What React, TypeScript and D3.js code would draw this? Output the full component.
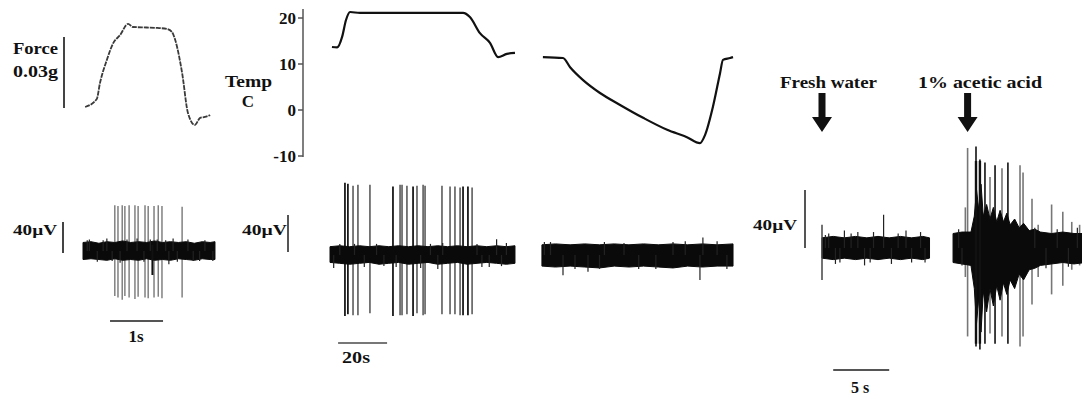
import React from 'react';
import * as d3 from 'd3';

// ---------- A: force stimulus + nerve recording ----------
const forceTime = [0.04, 0.26, 0.32, 0.45, 0.57, 0.70, 0.85, 0.94, 1.20, 1.40, 1.58, 1.68, 1.74, 1.87, 1.98, 2.11, 2.21, 2.30, 2.40];
const forceG = [0, 0.0034, 0.0101, 0.0199, 0.027, 0.0304, 0.0351, 0.0338, 0.0336, 0.0334, 0.033, 0.0317, 0.0283, 0.0144, -0.0025, -0.0076, -0.0046, -0.0042, -0.0034];
// [time s, peak uV, trough uV]
const spikesA = [
  [0.60, 59, -58], [0.66, 58, -60], [0.74, 59, -63], [0.79, 58, -58], [0.87, 59, -60],
  [0.98, 59, -62], [1.04, 58, -59], [1.17, 59, -60], [1.23, 58, -61], [1.34, 58, -60],
  [1.42, 59, -59], [1.49, 58, -61], [1.87, 57, -60],
];
const darkA = [[1.31, 8, -31]];
const envA = [[0, 11, -11], [0.15, 12, -10], [0.3, 10, -11], [0.45, 12, -12], [0.6, 11, -10], [0.75, 13, -12], [0.9, 11, -11], [1.05, 12, -12], [1.2, 11, -10], [1.35, 13, -12], [1.5, 11, -11], [1.65, 12, -12], [1.8, 11, -10], [1.95, 12, -11], [2.1, 10, -12], [2.25, 12, -10], [2.4, 11, -11], [2.49, 12, -11]];
const hairsA = [[0.08, 14], [0.12, 15], [0.27, -14], [0.38, 14], [0.45, 16], [0.55, -13], [0.7, -15], [0.83, 15], [1.02, 16], [1.15, -14], [1.27, 15], [1.4, 15], [1.56, 14], [1.62, -17], [1.7, 16], [1.78, -14], [1.98, 15], [2.08, -13], [2.2, -13], [2.3, 14], [2.45, -13]];

// ---------- B: temperature + recording ----------
const tempTime1 = [0.8, 2.9, 5.0, 6.5, 8.2, 12.2, 30, 54.3, 57.1, 61.2, 65.3, 68.6, 72.2, 75.5];
const tempC1 = [13.7, 13.6, 16.0, 19.5, 21.3, 21.1, 21.1, 21.1, 20.2, 16.7, 14.6, 11.5, 12.2, 12.4];
const tempTime2 = [86.9, 95.1, 98.0, 103.3, 110.2, 118.4, 127.8, 137.6, 145.7, 151.0, 153.1, 156.3, 159.2, 160.4, 163.3, 164.5];
const tempC2 = [11.5, 11.3, 9.3, 6.5, 3.7, 1.1, -1.7, -4.3, -5.9, -7.2, -5.4, 0.7, 8.0, 10.9, 11.3, 11.5];
const tempTicks = [20, 10, 0, -10];
const spikesB = [
  [6.1, 78, -66], [7.3, 77, -64], [9.4, 75, -65], [11.4, 76, -65], [16.3, 76, -63],
  [25.7, 74, -66], [28.6, 76, -65], [29.4, 76, -65], [31.4, 75, -64], [33.9, 74, -66],
  [35.5, 75, -63], [38.0, 76, -65], [38.8, 75, -64], [45.7, 75, -64], [49.0, 74, -64],
  [51.0, 74, -64], [53.1, 73, -65], [54.3, 74, -65], [56.3, 74, -65], [58.0, 73, -64],
];
const strongB = [6.1, 7.3, 25.7, 33.9, 54.3, 56.3];
const envB1 = [[0, 9, -8], [4, 10, -9], [8, 9, -10], [12, 10, -9], [16, 9, -8], [20, 10, -10], [24, 9, -9], [28, 10, -8], [32, 9, -10], [36, 10, -9], [40, 9, -8], [44, 10, -10], [48, 9, -9], [52, 10, -8], [56, 9, -10], [60, 10, -9], [64, 9, -8], [68, 10, -9], [72, 9, -10], [75.5, 10, -9]];
const hairsB1 = [[1.5, -14], [4, 12], [10, 12], [14, -13], [19, 12], [22, -12], [27, -13], [37, -14], [41, 12], [44, -15], [46, 13], [60, 12], [62, -13], [65, -13], [68, 17], [70, -12], [72, 13]];
const envB2 = [[86.5, 11, -12], [92, 12, -13], [98, 11, -12], [104, 12, -13], [110, 11, -14], [116, 12, -12], [122, 11, -13], [128, 12, -12], [134, 11, -13], [140, 12, -14], [146, 11, -12], [152, 12, -13], [158, 11, -12], [164.5, 12, -12]];
const hairsB2 = [[87.5, 14], [95.1, -22], [100, -15], [105.3, -18], [90, 14], [112, 14], [120, 13], [126, -15], [140, 14], [145, 15], [151.0, -27], [152.2, 19], [158, 15], [110, -15], [133, -15], [162, -15]];

// ---------- C: fresh water vs acetic acid ----------
const spikesC1 = [[0.0, 16, -22]];
const envC1 = [[0, 7, -7], [1, 8, -8], [2, 7, -7], [3, 8, -8], [4, 7, -7], [5, 8, -8], [6, 7, -7], [7, 8, -8], [8, 7, -7], [9, 8, -8], [9.6, 7, -7]];
const hairsC1 = [[0.3, 9], [0.6, 10], [1.2, -11], [1.6, -10], [2.0, 12], [2.6, 10], [3.2, 11], [3.8, -12], [4.3, -10], [4.6, 11], [5.5, 23], [6.2, -11], [6.8, 10], [7.5, 12], [8.0, -10], [8.8, 11], [9.2, -10]];
const spikesC2 = [
  [13.0, 69, -61], [13.75, 70, -68], [14.1, 61, -70], [14.55, 59, -66], [15.0, 49, -59],
  [15.45, 57, -66], [16.07, 55, -61], [16.6, 59, -66], [17.68, 57, -68], [17.95, 52, -61],
  [18.75, 34, -39], [20.5, 30, -32], [21.5, 25, -26], [22.3, 18, -15], [23.0, 16, -12],
  [12.8, 28, -20], [19.3, 16, -20],
];
const strongC2 = [13.75, 14.1, 14.55, 15.45, 16.6];
const envC2 = [
  [11.7, 10, -10], [12.5, 11, -11], [13.3, 11, -12], [13.6, 22, -28], [13.8, 40, -52], [14.0, 26, -34],
  [14.2, 44, -58], [14.4, 22, -30], [14.7, 30, -44], [15.0, 20, -28], [15.3, 28, -40], [15.6, 18, -26],
  [15.9, 26, -36], [16.2, 18, -24], [16.5, 24, -32], [16.8, 16, -22], [17.2, 20, -28], [17.6, 14, -18],
  [18.0, 17, -22], [18.5, 12, -15], [19.0, 13, -14], [19.5, 11, -12], [20.5, 10, -11], [21.5, 11, -10],
  [22.5, 10, -11], [23.5, 10, -10],
];
const hairsC2 = [[12.2, 13], [12.5, -12], [19.0, 14], [20.0, -14], [21.0, 13], [22.0, -13], [22.8, 14]];

const FONT = '"Liberation Serif", "Times New Roman", serif';

const App: React.FC = () => {
  // scales, one set per panel
  const xA = d3.scaleLinear().domain([0, 2.5]).range([83, 215.5]);
  const fA = d3.scaleLinear().domain([0, 0.03]).range([107, 36]);
  const yA = d3.scaleLinear().domain([0, 40]).range([251, 220]);

  const xB = d3.scaleLinear().domain([0, 20]).range([330, 379]);
  const tB = d3.scaleLinear().domain([-10, 20]).range([156, 18]);
  const yB = d3.scaleLinear().domain([0, 40]).range([255, 218]);

  const xC = d3.scaleLinear().domain([0, 5]).range([822, 878]);
  const yC = d3.scaleLinear().domain([0, 40]).range([248, 190]);

  const line = (xs: number[], ys: number[], x: any, y: any) =>
    d3.line<number>().x((_, i) => x(xs[i])).y((d) => y(d)).curve(d3.curveMonotoneX)(ys) || '';

  const band = (env: number[][], x: any, y: any) =>
    d3.area<number[]>().x((d) => x(d[0])).y0((d) => y(d[2])).y1((d) => y(d[1])).curve(d3.curveLinear)(env) || '';

  const spikes = (data: number[][], x: any, y: any, color: (t: number) => string, w = 1.4) =>
    data.map((d, i) => (
      <line key={i} x1={x(d[0])} x2={x(d[0])} y1={y(d[1])} y2={y(d[2])} stroke={color(d[0])} strokeWidth={w} />
    ));

  const hairs = (data: number[][], x: any, y: any) =>
    data.map((d, i) => (
      <line key={i} x1={x(d[0])} x2={x(d[0])} y1={y(0)} y2={y(d[1])} stroke="#222" strokeWidth={1.2} />
    ));

  const txt = (s: string, x: number, y: number, len: number | null, size = 15, anchor = 'start') => (
    <text x={x} y={y} fontFamily={FONT} fontWeight="bold" fontSize={size} textAnchor={anchor}
      textLength={len ?? undefined} lengthAdjust="spacingAndGlyphs" fill="#111">{s}</text>
  );

  const arrow = (cx: number) => {
    const p = d3.path();
    p.moveTo(cx - 3.5, 93); p.lineTo(cx + 3.5, 93); p.lineTo(cx + 3.5, 117); p.lineTo(cx + 10, 117);
    p.lineTo(cx, 132); p.lineTo(cx - 10, 117); p.lineTo(cx - 3.5, 117); p.closePath();
    return <path d={p.toString()} fill="#111" />;
  };

  return (
    <>
      <style>{'body{margin:0}'}</style>
      <svg width={1082} height={396} style={{ display: 'block', background: '#fff' }}>
        {/* ---- A ---- */}
        {txt('Force', 13, 54, 45, 16)}
        {txt('0.03g', 13, 77, 45, 16)}
        <line x1={64} x2={64} y1={fA(0.03) + 1} y2={fA(0) + 1} stroke="#444" strokeWidth={2} />
        <path d={line(forceTime, forceG, xA, fA)} fill="none" stroke="#3a3a3a" strokeWidth={1.8} strokeDasharray="5 1" />

        {txt('40µV', 13, 235, 44, 15)}
        <line x1={63} x2={63} y1={yA(40) + 2} y2={yA(0) + 2} stroke="#444" strokeWidth={2} />
        {spikes(spikesA, xA, yA, () => '#808080', 1.5)}
        <path d={band(envA, xA, yA)} fill="#0a0a0a" stroke="#0a0a0a" strokeWidth={1} />
        {hairs(hairsA, xA, yA)}
        {spikes(darkA, xA, yA, () => '#111', 2)}
        <line x1={xA(0.51)} x2={xA(1.51)} y1={321} y2={321} stroke="#555" strokeWidth={2} />
        {txt('1s', xA(1.0), 342, null, 17, 'middle')}

        {/* ---- B ---- */}
        {txt('Temp', 225, 87, 47, 17)}
        {txt('C', 248, 107, null, 17, 'middle')}
        <line x1={303} x2={303} y1={9} y2={tB(-10) + 1} stroke="#555" strokeWidth={1.5} />
        {tempTicks.map((v) => (
          <g key={v}>
            <line x1={298} x2={303} y1={tB(v)} y2={tB(v)} stroke="#555" strokeWidth={1.5} />
            {txt(String(v), 296, tB(v) + 6, null, 17, 'end')}
          </g>
        ))}
        <path d={line(tempTime1, tempC1, xB, tB)} fill="none" stroke="#111" strokeWidth={2.2} />
        <path d={line(tempTime2, tempC2, xB, tB)} fill="none" stroke="#111" strokeWidth={2.2} />

        {txt('40µV', 242, 235, 45, 15)}
        <line x1={288} x2={288} y1={yB(40) - 3} y2={yB(0) - 3} stroke="#555" strokeWidth={2} />
        {spikes(spikesB, xB, yB, (t) => (strongB.includes(t) ? '#1a1a1a' : '#6e6e6e'), 1.8)}
        <path d={band(envB1, xB, yB)} fill="#0a0a0a" stroke="#0a0a0a" strokeWidth={1} />
        <path d={band(envB2, xB, yB)} fill="#0a0a0a" stroke="#0a0a0a" strokeWidth={1} />
        {hairs(hairsB1, xB, yB)}
        {hairs(hairsB2, xB, yB)}
        <line x1={xB(3.3)} x2={xB(23.3)} y1={343} y2={343} stroke="#777" strokeWidth={2} />
        {txt('20s', 342, 363, 28, 16)}

        {/* ---- C ---- */}
        {txt('Fresh water', 780, 88, 97, 16)}
        {txt('1% acetic acid', 918, 88, 124, 16)}
        {arrow(xC(0))}
        {arrow(xC(13.0))}
        {txt('40µV', 753, 230, 44, 15)}
        <line x1={805} x2={805} y1={yC(40)} y2={yC(0)} stroke="#555" strokeWidth={2} />
        <path d={band(envC1, xC, yC)} fill="#0a0a0a" stroke="#0a0a0a" strokeWidth={1} />
        {hairs(hairsC1, xC, yC)}
        {spikes(spikesC1, xC, yC, () => '#444', 1.5)}
        {spikes(spikesC2, xC, yC, (t) => (strongC2.includes(t) ? '#111' : '#777'), 1.6)}
        <path d={band(envC2, xC, yC)} fill="#0a0a0a" stroke="#0a0a0a" strokeWidth={1} />
        {hairs(hairsC2, xC, yC)}
        {strongC2.slice(0, 2).map((t, i) => (
          <rect key={i} x={xC(t) - 1.2} width={2.4} y={yC(60)} height={yC(-66) - yC(60)} fill="#111" />
        ))}
        <line x1={xC(1.0)} x2={xC(6.0)} y1={370} y2={370} stroke="#555" strokeWidth={2} />
        {txt('5 s', 860, 393, null, 16, 'middle')}
      </svg>
    </>
  );
};

export default App;
